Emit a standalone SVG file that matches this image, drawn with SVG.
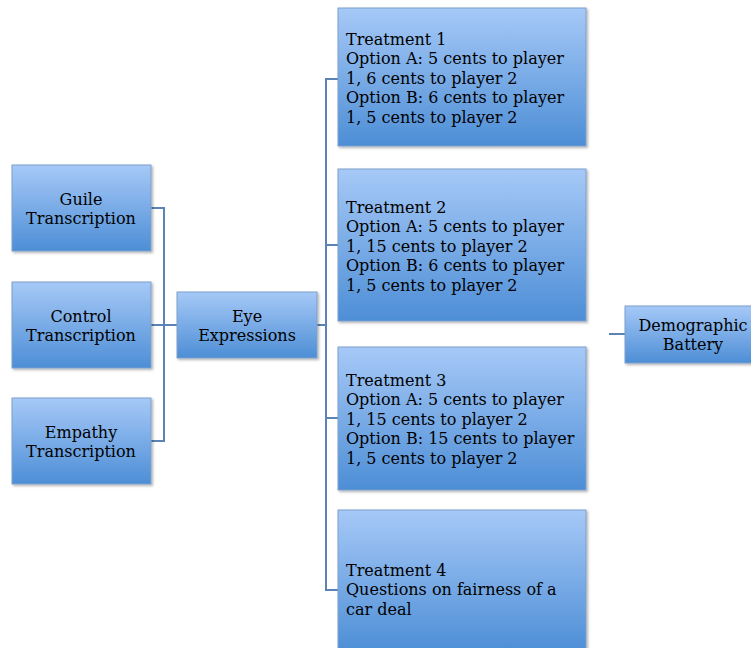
<svg xmlns="http://www.w3.org/2000/svg" width="751" height="648" viewBox="0 0 751 648">
<defs>
<linearGradient id="g" x1="0" y1="0" x2="0" y2="1">
<stop offset="0" stop-color="#a6c9f7"/>
<stop offset="1" stop-color="#4d8ed6"/>
</linearGradient>
<filter id="sh" x="-5%" y="-5%" width="115%" height="115%">
<feDropShadow dx="1.5" dy="1.5" stdDeviation="1" flood-color="#000" flood-opacity="0.3"/>
</filter>
</defs>
<style>
.box{fill:url(#g);stroke:#7d9fcb;stroke-width:1;filter:url(#sh)}
.t{font-family:"DejaVu Serif","Liberation Serif",serif;font-size:16px;fill:#000}
.c{text-anchor:middle}
.ln{fill:none;stroke:#5b83b6;stroke-width:2}
</style>
<rect width="751" height="648" fill="#fff"/>
<g id="connectors">
<path class="ln" d="M151 208H164V441H151M151 325H177"/>
<path class="ln" d="M317 325H326M338 79H326V590H338M326 245H338M326 418H338"/>
<path class="ln" d="M609 334H625"/>
</g>
<g id="guile"><rect class="box" x="12" y="165" width="139" height="86"/>
<text class="t c" x="81" y="205">Guile</text><text class="t c" x="81" y="224">Transcription</text></g>
<g id="control"><rect class="box" x="12" y="282" width="139" height="86"/>
<text class="t c" x="81" y="322">Control</text><text class="t c" x="81" y="341">Transcription</text></g>
<g id="empathy"><rect class="box" x="12" y="398" width="139" height="86"/>
<text class="t c" x="81" y="438">Empathy</text><text class="t c" x="81" y="457">Transcription</text></g>
<g id="eye"><rect class="box" x="177" y="292" width="140" height="66"/>
<text class="t c" x="247" y="322">Eye</text><text class="t c" x="247" y="341">Expressions</text></g>
<g id="t1"><rect class="box" x="338" y="8" width="248" height="138"/>
<text class="t" x="346" y="45">Treatment 1</text>
<text class="t" x="346" y="64">Option A: 5 cents to player</text>
<text class="t" x="346" y="84">1, 6 cents to player 2</text>
<text class="t" x="346" y="103">Option B: 6 cents to player</text>
<text class="t" x="346" y="123">1, 5 cents to player 2</text></g>
<g id="t2"><rect class="box" x="338" y="169" width="248" height="152"/>
<text class="t" x="346" y="213">Treatment 2</text>
<text class="t" x="346" y="232">Option A: 5 cents to player</text>
<text class="t" x="346" y="252">1, 15 cents to player 2</text>
<text class="t" x="346" y="271">Option B: 6 cents to player</text>
<text class="t" x="346" y="291">1, 5 cents to player 2</text></g>
<g id="t3"><rect class="box" x="338" y="347" width="248" height="143"/>
<text class="t" x="346" y="386">Treatment 3</text>
<text class="t" x="346" y="405">Option A: 5 cents to player</text>
<text class="t" x="346" y="425">1, 15 cents to player 2</text>
<text class="t" x="346" y="444">Option B: 15 cents to player</text>
<text class="t" x="346" y="464">1, 5 cents to player 2</text></g>
<g id="t4"><rect class="box" x="338" y="510" width="248" height="142"/>
<text class="t" x="346" y="576">Treatment 4</text>
<text class="t" x="346" y="595">Questions on fairness of a</text>
<text class="t" x="346" y="615">car deal</text></g>
<g id="demographic"><rect class="box" x="625" y="306" width="130" height="57"/>
<text class="t c" x="693" y="331">Demographic</text><text class="t c" x="693" y="350">Battery</text></g>
</svg>
